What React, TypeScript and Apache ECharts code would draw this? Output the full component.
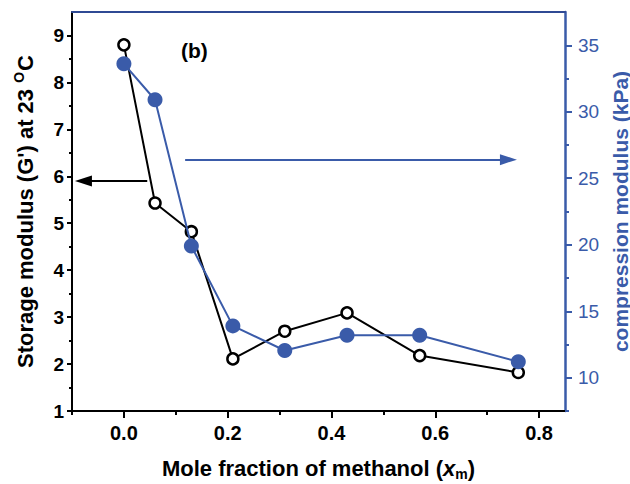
import React, { useEffect, useRef } from "react";
import * as echarts from "echarts";

const xFractions = [0, 0.06, 0.13, 0.21, 0.31, 0.43, 0.57, 0.76];
const storageModulus = [8.8, 5.43, 4.82, 2.11, 2.7, 3.09, 2.18, 1.82];
const compressionModulus = [33.6, 30.9, 19.9, 13.9, 12.05, 13.2, 13.2, 11.2];

const xMajorTicks = [0, 0.2, 0.4, 0.6, 0.8];
const xMinorTicks = [-0.1, 0.1, 0.3, 0.5, 0.7];
const leftMajorTicks = [1, 2, 3, 4, 5, 6, 7, 8, 9];
const leftMinorTicks = [1.5, 2.5, 3.5, 4.5, 5.5, 6.5, 7.5, 8.5];
const rightMajorTicks = [10, 15, 20, 25, 30, 35];
const rightMinorTicks = [7.5, 12.5, 17.5, 22.5, 27.5, 32.5];

// arrow annotations: [xStart, xEnd, y]
const blackArrow = [0.045, -0.078, 5.9];
const blueArrow = [0.118, 0.741, 26.4];

const BLUE = "#3a5ba9";
const FONT = "'Liberation Sans', Arial, Helvetica, sans-serif";

export default function App() {
  const ref = useRef<HTMLDivElement>(null);
  useEffect(() => {
    if (!ref.current) return;
    const chart = echarts.init(ref.current, null, { renderer: "svg" });
    const blackData = xFractions.map((x, i) => [x, storageModulus[i]]);
    const blueData = xFractions.map((x, i) => [x, compressionModulus[i]]);
    const xMin = -0.1, xMax = 0.85;
    const lMin = 1, lMax = 9.5;
    const rMin = 7.5, rMax = 37.5;
    const noSplit = { show: false };
    chart.setOption({
      animation: false,
      textStyle: { fontFamily: FONT },
      grid: { left: 72, right: 65, top: 12, bottom: 73, containLabel: false, outerBoundsMode: "none" },
      xAxis: [
        {
          type: "value", position: "bottom", min: xMin, max: xMax,
          axisLine: { show: true, onZero: false, lineStyle: { color: "#000", width: 2 } },
          axisTick: { show: true, customValues: xMajorTicks, length: 7, lineStyle: { color: "#000", width: 2 } },
          axisLabel: {
            show: true, customValues: xMajorTicks, margin: 12,
            formatter: (v: number) => v.toFixed(1),
            color: "#000", fontWeight: "bold", fontSize: 20, fontFamily: FONT,
          },
          splitLine: noSplit,
          name: "{a|Mole fraction of methanol (}{i|x}{s|m}{a|)}",
          nameLocation: "middle", nameGap: 44,
          nameTextStyle: {
            rich: {
              a: { fontSize: 22, fontWeight: "bold", color: "#000", fontFamily: FONT },
              i: { fontSize: 22, fontWeight: "bold", fontStyle: "italic", color: "#000", fontFamily: FONT },
              s: { fontSize: 14, fontWeight: "bold", color: "#000", fontFamily: FONT, padding: [12, 0, 0, 0] },
            },
          },
        },
        {
          type: "value", position: "bottom", min: xMin, max: xMax,
          axisLine: { show: false, onZero: false },
          axisTick: { show: true, customValues: xMinorTicks, length: 4, lineStyle: { color: "#000", width: 2 } },
          axisLabel: { show: false },
          splitLine: noSplit,
        },
        {
          type: "value", position: "top", min: xMin, max: xMax,
          axisLine: { show: true, onZero: false, lineStyle: { color: "#2f4a94", width: 2 } },
          axisTick: { show: false },
          axisLabel: { show: false },
          splitLine: noSplit,
        },
      ],
      yAxis: [
        {
          type: "value", position: "left", min: lMin, max: lMax,
          axisLine: { show: true, onZero: false, lineStyle: { color: "#000", width: 2 } },
          axisTick: { show: true, customValues: leftMajorTicks, length: 5, lineStyle: { color: "#000", width: 2 } },
          axisLabel: {
            show: true, customValues: leftMajorTicks, margin: 8,
            color: "#000", fontWeight: "bold", fontSize: 19, fontFamily: FONT,
          },
          splitLine: noSplit,
          name: "Storage modulus (G') at 23 {sup|O}C",
          nameLocation: "middle", nameGap: 34, nameRotate: 90,
          nameTextStyle: {
            fontSize: 22, fontWeight: "bold", color: "#000", fontFamily: FONT,
            rich: {
              sup: { fontSize: 14, fontWeight: "bold", color: "#000", fontFamily: FONT, padding: [0, 1, 12, 0] },
            },
          },
        },
        {
          type: "value", position: "right", min: rMin, max: rMax,
          axisLine: { show: true, onZero: false, lineStyle: { color: BLUE, width: 2.5 } },
          axisTick: { show: true, customValues: rightMajorTicks, length: 7, lineStyle: { color: BLUE, width: 2 } },
          axisLabel: {
            show: true, customValues: rightMajorTicks, margin: 13,
            color: BLUE, fontSize: 19, fontFamily: FONT,
          },
          splitLine: noSplit,
          name: "compression modulus (kPa)",
          nameLocation: "middle", nameGap: 31, nameRotate: 90,
          nameTextStyle: { fontSize: 21, fontWeight: "bold", color: BLUE, fontFamily: FONT },
        },
        {
          type: "value", position: "left", min: lMin, max: lMax,
          axisLine: { show: false, onZero: false },
          axisTick: { show: true, customValues: leftMinorTicks, length: 3, lineStyle: { color: "#000", width: 2 } },
          axisLabel: { show: false },
          splitLine: noSplit,
        },
        {
          type: "value", position: "right", min: rMin, max: rMax,
          axisLine: { show: false, onZero: false },
          axisTick: { show: true, customValues: rightMinorTicks, length: 4, lineStyle: { color: BLUE, width: 2 } },
          axisLabel: { show: false },
          splitLine: noSplit,
        },
      ],
      graphic: [
        {
          type: "text", left: 181, top: 40,
          style: { text: "(b)", font: `bold 21px ${FONT}`, fill: "#000" },
        },
      ],
      series: [
        {
          type: "line", name: "G'", xAxisIndex: 0, yAxisIndex: 0, data: blackData,
          symbol: "circle", symbolSize: 11,
          itemStyle: { color: "#fff", borderColor: "#000", borderWidth: 2.5 },
          lineStyle: { color: "#000", width: 2 },
          emphasis: { disabled: true },
          z: 2,
          markLine: {
            silent: true, symbol: ["none", "triangle"], symbolSize: [11, 17],
            label: { show: false },
            lineStyle: { color: "#000", width: 2, type: "solid" },
            itemStyle: { color: "#000" },
            emphasis: { disabled: true },
            data: [[{ coord: [blackArrow[0], blackArrow[2]] }, { coord: [blackArrow[1], blackArrow[2]] }]],
          },
        },
        {
          type: "line", name: "compression", xAxisIndex: 0, yAxisIndex: 1, data: blueData,
          symbol: "circle", symbolSize: 15,
          itemStyle: { color: BLUE },
          lineStyle: { color: BLUE, width: 2 },
          emphasis: { disabled: true },
          z: 3,
          markLine: {
            silent: true, symbol: ["none", "triangle"], symbolSize: [11, 17],
            label: { show: false },
            lineStyle: { color: BLUE, width: 2, type: "solid" },
            itemStyle: { color: BLUE },
            emphasis: { disabled: true },
            data: [[{ coord: [blueArrow[0], blueArrow[2]] }, { coord: [blueArrow[1], blueArrow[2]] }]],
          },
        },
      ],
    });
    return () => chart.dispose();
  }, []);
  return (
    <div
      ref={ref}
      style={{ position: "fixed", left: 0, top: 0, width: 630, height: 484, background: "#fff" }}
    />
  );
}
